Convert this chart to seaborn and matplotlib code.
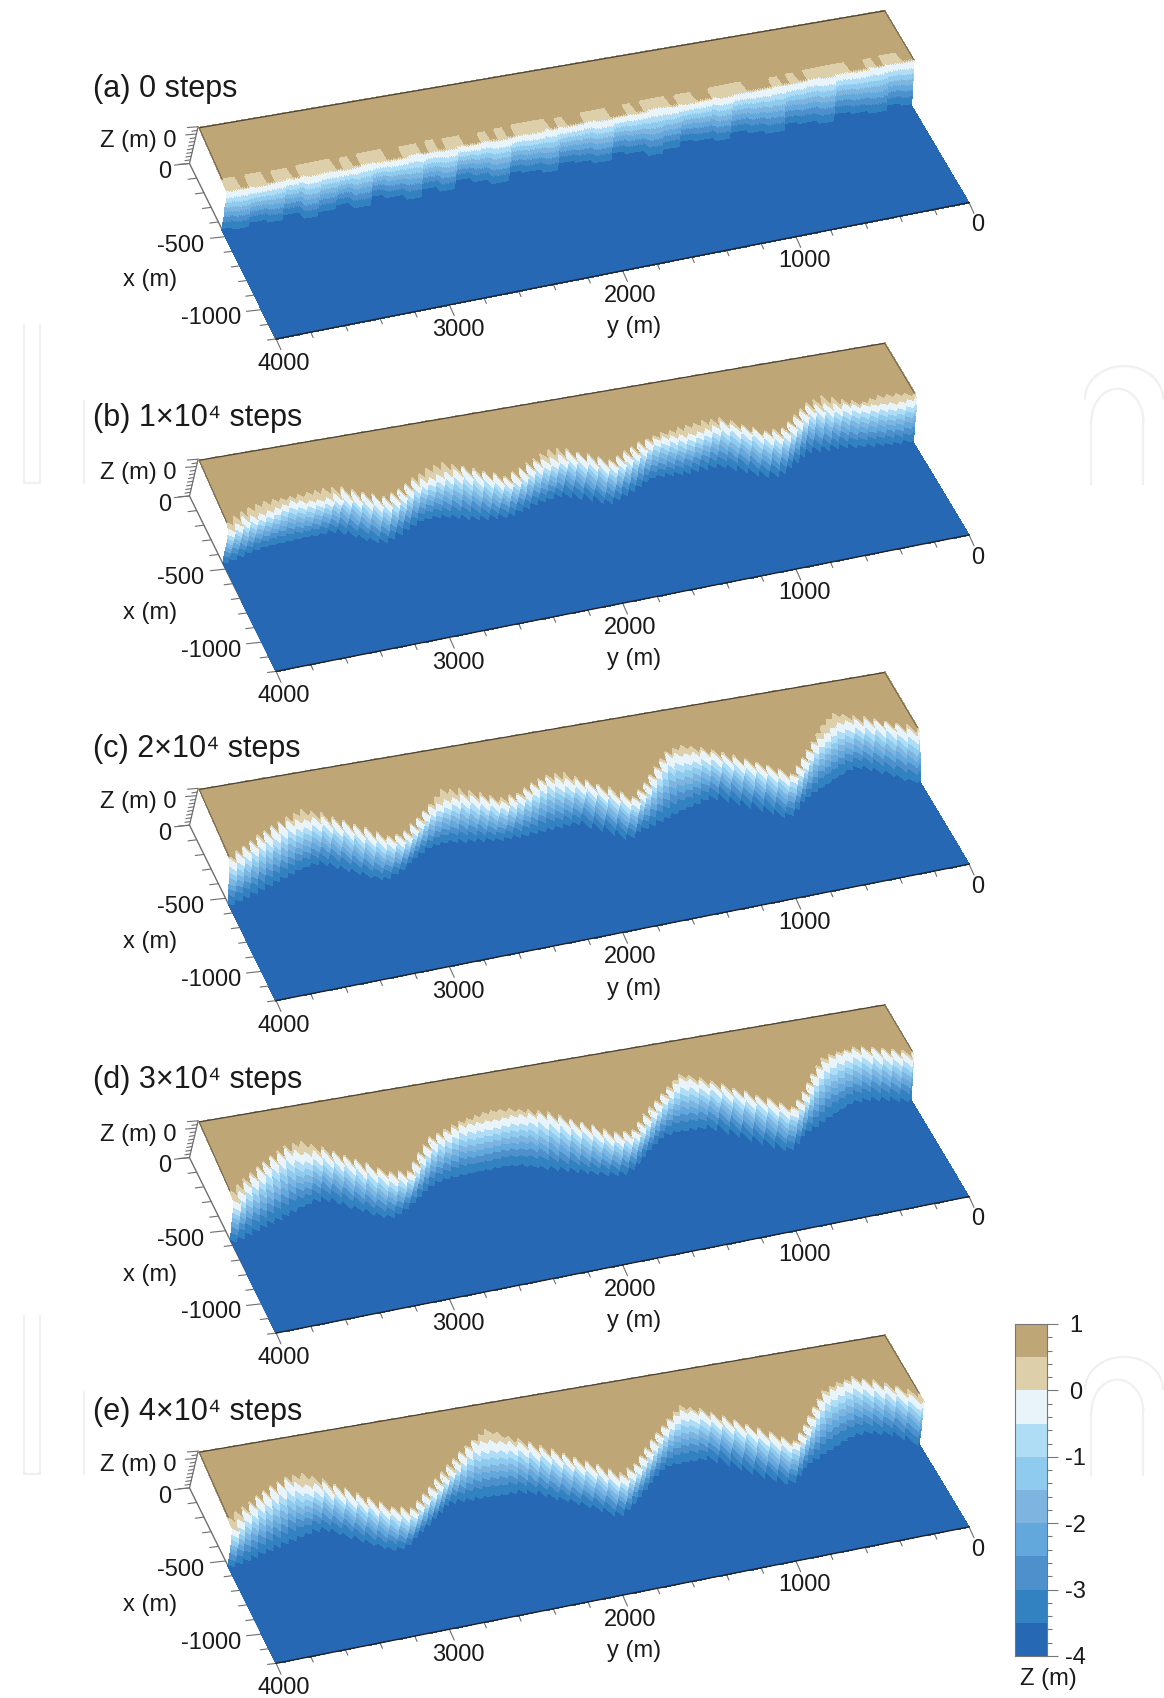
import numpy as np
import matplotlib
matplotlib.use("Agg")
import matplotlib.pyplot as plt
from matplotlib.colors import ListedColormap
import seaborn as sns

# ---------- data (metres offshore of the x = 0 line) ----------
band_colors = ["#BFA677", "#DCCFAA", "#E9F4FA", "#AEDDF5", "#8FCBEE",
               "#7DB5E0", "#62A8DC", "#4E90CC", "#3282C2", "#2668B4"]
colorbar_ticks = ["1", "0", "-1", "-2", "-3", "-4"]

shore_a = [390,390,320,320,390,325,390,390,320,320,320,320,320,390,325,390,330,390,390,390,320,
           320,320,320,390,390,325,325,390,320,320,320,390,325,390,390,325,325,325,390,390,330,
           390,320,320,320,320,390,325,390,330,390,390,325,325,390,320,390,325,325,390,390,320,
           320,320,390,325,390,320,320,320,320,390,325,325,390,320,320,390,320,320]
sandline_a = [392,388,382,394,386,396,384,392,386,380,390,396,384,394,386,380,392,388,396,384,390,
              380,394,388,396,386,384,394,388,380,394,390,384,396,388,394,384,390,396,388,392]
toe_a = [425,405,440,420,400,450,425,410,455,430,405,445,420,400,440,465,425,405,450,425,410,
         455,430,415,470,435,405,460,425,475,440,415,470,430,455,480,435,465,445,470,455]
tooth_a = [0] * 41

shore_b = [411,394,380,405,372,329,361,428,496,488,415,341,330,341,353,364,408,450,482,423,363,
           334,382,430,454,402,349,296,308,362,416,441,390,339,311,313,316,318,329,364,400]
toe_b = [470,410,359,354,348,343,346,395,445,473,431,388,375,382,389,396,430,470,506,432,397,
         418,440,462,483,470,442,414,399,439,479,519,455,382,388,394,400,406,415,443,472]
tooth_b = [6,6,6,6,10,18,18,18,18,14,14,14,8,8,8,8,18,18,16,18,18,12,16,18,16,18,18,12,8,16,18,
           18,18,18,8,6,6,6,8,14,8]
sand_b = [14,25,25,6,10,25,4,4,3,3,4,10,25,25,14,6,3,3,3,3,6,25,6,3,3,3,3,25,25,4,3,3,3,6,
          25,22,10,22,26,14,20]

shore_c = [469,412,354,296,240,312,420,527,610,528,458,388,318,270,300,390,486,560,475,397,319,
           307,347,388,401,350,300,270,352,424,493,499,432,365,297,238,276,316,355,395,434]
toe_c = [569,488,407,356,403,450,497,544,545,478,410,382,413,445,476,507,539,532,472,413,420,
         427,434,440,434,418,403,387,410,466,521,577,511,445,378,395,428,460,492,525,557]
tooth_c = [14,18,18,14,5,5,12,16,12,18,18,18,12,5,12,14,16,14,18,18,12,12,14,14,12,14,14,6,12,
           14,16,12,18,18,16,6,14,16,16,14,10]
sand_c = [10,4,4,10,30,25,3,3,3,3,3,3,8,25,5,3,3,3,3,3,15,5,3,3,8,8,15,30,5,3,3,3,3,3,8,25,8,
          3,3,4,8]

shore_d = [398,358,319,279,285,318,421,537,618,537,459,381,304,240,322,400,479,559,557,488,419,
           350,297,262,253,264,288,325,360,445,537,522,451,379,307,235,255,302,350,400,450]
toe_d = [444,410,376,369,416,463,510,557,604,493,381,376,375,374,373,433,500,566,591,552,513,
         475,436,402,406,410,414,418,451,515,579,617,545,472,400,431,462,493,525,556,587]
tooth_d = [14,18,18,10,5,10,14,16,12,18,18,18,12,5,12,14,16,14,16,18,18,16,8,5,5,5,8,12,14,16,
           14,12,18,18,18,6,14,16,16,14,12]
sand_d = [6,3,3,5,6,8,3,3,3,3,3,3,5,12,4,3,3,3,3,3,3,3,8,18,25,20,6,4,3,3,3,3,3,3,6,30,6,3,3,8,30]

shore_e = [488,417,345,275,290,335,440,555,645,565,480,394,308,250,330,415,500,585,630,551,476,
           400,324,248,175,231,302,373,444,514,585,552,475,398,321,244,260,301,343,386,428]
toe_e = [482,443,405,390,435,480,525,570,615,500,382,379,381,382,384,452,533,614,644,581,519,
         456,394,391,389,386,383,380,443,540,629,621,547,474,400,425,450,475,501,526,551]
tooth_e = [12,18,18,10,5,10,14,16,12,18,18,18,12,5,12,14,16,14,16,18,18,18,18,8,5,10,14,16,16,
           14,14,14,18,18,18,6,14,16,16,14,12]
sand_e = [30,3,3,6,8,6,3,3,3,3,3,3,6,12,4,3,3,3,8,3,3,3,3,15,35,5,3,3,3,3,3,3,3,3,6,30,6,3,3,8,35]

panel_titles = ["(a) 0 steps", "(b) 1×10⁴ steps", "(c) 2×10⁴ steps", "(d) 3×10⁴ steps", "(e) 4×10⁴ steps"]
y_ticks_major = [0, 1000, 2000, 3000, 4000]
x_ticks_major = [0, 500, 1000]
x_tick_text = ["0", "-500", "-1000"]

# ---------- layout (in units of the 1075 x 1568 view) ----------
panel_offset = [0, 307, 611, 918, 1223]
title_offset = [0, 304, 610, 915, 1222]
Y_MAX, X_MAX = 4000.0, 1200.0
base_q = np.array([[812, 48], [175, 151], [895, 187], [255, 313]], float)   # back y=0, back y=4000, front y=0, front y=4000
top_q = np.array([[817, 10], [184, 118], [900, 149], [264, 298]], float)
level_h = [1.0, 0.965, 0.81, 0.69, 0.57, 0.45, 0.32, 0.18, 0.0]
level_f = [0.0, 0.19, 0.32, 0.44, 0.55, 0.66, 0.79, 1.0]
TOOTH_GAIN, TOE_TOOTH, SAND_GAIN = 2.0, 0.9, 2.0
LABEL_PT, TITLE_PT = 17, 22


def bil(q, u, t):
    back = q[0][None, :] * (1 - u)[..., None] + q[1][None, :] * u[..., None]
    front = q[2][None, :] * (1 - u)[..., None] + q[3][None, :] * u[..., None]
    return back * (1 - t)[..., None] + front * t[..., None]


def on_base(y, x):
    y, x = np.atleast_1d(y, x)
    return bil(base_q, y / Y_MAX, x / X_MAX)


def stretch(values, ymesh):
    return np.interp(ymesh, np.linspace(0, Y_MAX, len(values)), values)


def nearest(values, ymesh):
    idx = np.round(ymesh / Y_MAX * (len(values) - 1)).astype(int)
    return np.asarray(values, float)[idx]


def soften(v, n=5):
    pad = np.r_[np.full(n, v[0]), v, np.full(n, v[-1])]
    return np.convolve(pad, np.ones(n) / n, mode="same")[n:-n]


def draw_surface(ax, off, shore, toe, tooth, sand=None, sandline=None):
    if sandline is not None:                     # blocky initial state
        ym = np.arange(0, Y_MAX + 1, 10.0)
        s = nearest(shore, ym)
        z0 = np.maximum(nearest(sandline, ym), s + 2)
        tz = np.maximum(nearest(toe, ym), z0 + 12)
    else:
        ym = np.arange(0, Y_MAX + 1, 25.0)
        sign = np.where(np.arange(len(ym)) % 2 == 0, -1.0, 1.0)
        amp = stretch(tooth, ym) * TOOTH_GAIN
        s = stretch(shore, ym) + amp * sign
        z0 = s + stretch(sand, ym) * SAND_GAIN
        tz = soften(stretch(toe, ym)) + amp * sign * TOE_TOOTH * 0.5
        tz = np.maximum(tz, z0 + 12)
    rows_x = [np.zeros_like(s), s] + [z0 + f * (tz - z0) for f in level_f] + [np.full_like(s, X_MAX)]
    rows_h = [1.0, 1.0] + level_h[1:] + [0.0]
    u = ym / Y_MAX
    sx, sy = [], []
    for rx, h in zip(rows_x, rows_h):
        p = bil(top_q, u, rx / X_MAX) * h + bil(base_q, u, rx / X_MAX) * (1 - h)
        sx.append(p[:, 0])
        sy.append(p[:, 1] + off)
    sx, sy = np.array(sx).T, np.array(sy).T
    C = np.tile(np.arange(10), (len(ym) - 1, 1))
    ax.pcolormesh(sx, sy, C, cmap=ListedColormap(band_colors), vmin=-0.5, vmax=9.5,
                  shading="flat", edgecolors="face", linewidth=0.2, zorder=2)
    # outline of the top of the bank
    ax.plot(*(bil(top_q, np.array([0.0, 1.0]), np.zeros(2)) + [0, off]).T, color="#4a4438", lw=0.9, zorder=3)
    for k, uu in enumerate((0.0, 1.0)):
        rx = s[-1 if k else 0]
        pts = bil(top_q, np.array([uu, uu]), np.array([0.0, rx / X_MAX])) + [0, off]
        ax.plot(pts[:, 0], pts[:, 1], color="#6b6250", lw=0.7, zorder=3)


def draw_axes(ax, off, title, title_off):
    tick = "#6f6f6f"
    # y axis along the front edge
    p = on_base(np.array([0.0, Y_MAX]), np.array([X_MAX, X_MAX])) + [0, off]
    ax.plot(p[:, 0], p[:, 1], color="#222222", lw=1.0, zorder=4)
    for v in np.arange(0, Y_MAX + 1, 200):
        major = v in y_ticks_major
        q = on_base(np.array([v]), np.array([X_MAX]))[0] + [0, off]
        dx, dy = (4.5, 10.0) if major else (2.2, 5.0)
        ax.plot([q[0], q[0] + dx], [q[1], q[1] + dy], color=tick, lw=0.8, zorder=1)
    for v, (lx, ly) in zip(y_ticks_major, [(903, 208), (743, 241), (582, 273), (423, 305), (262, 336)]):
        ax.text(lx, ly + off, str(v), ha="center", va="center", fontsize=LABEL_PT, color="#1a1a1a")
    # x axis along the left edge
    p = on_base(np.array([Y_MAX, Y_MAX]), np.array([0.0, X_MAX])) + [0, off]
    ax.plot(p[:, 0], p[:, 1], color=tick, lw=1.0, zorder=1)
    for v in np.arange(0, X_MAX + 1, 100):
        major = v in x_ticks_major
        q = on_base(np.array([Y_MAX]), np.array([v]))[0] + [0, off]
        ax.plot([q[0] - (14 if major else 8), q[0]], [q[1] + (1.5 if major else 1), q[1]], color=tick, lw=0.8, zorder=1)
    for s, (lx, ly) in zip(x_tick_text, [(152, 159), (167, 227), (195, 294)]):
        ax.text(lx, ly + off, s, ha="center", va="center", fontsize=LABEL_PT, color="#1a1a1a")
    # Z axis
    ax.plot([175, 183], [151 + off, 117 + off], color=tick, lw=0.9, zorder=1)
    for i, f in enumerate(np.linspace(0, 1, 11)):
        q = (175 + 8 * f, 151 + off - 34 * f)
        ln = 10 if i in (0, 8, 10) else 5
        ax.plot([q[0] - ln, q[0]], [q[1] + 0.8, q[1]], color=tick, lw=0.8, zorder=1)
    ax.text(92, 130 + off, "Z (m) 0", ha="left", va="center", fontsize=LABEL_PT, color="#1a1a1a")
    ax.text(139, 259 + off, "x (m)", ha="center", va="center", fontsize=LABEL_PT, color="#1a1a1a")
    ax.text(586, 302 + off, "y (m)", ha="center", va="center", fontsize=LABEL_PT, color="#1a1a1a")
    ax.text(86, 82 + title_off, title, ha="left", va="center", fontsize=TITLE_PT, color="#1a1a1a")


sns.set_theme(style="white")
plt.rcParams["font.family"] = ["Liberation Sans", "DejaVu Sans"]

fig = plt.figure(figsize=(11.64, 16.98), dpi=100, facecolor="white")
ax = fig.add_axes([0, 0, 1, 1])
ax.set_xlim(0, 1075)
ax.set_ylim(1568, 0)
ax.axis("off")

# faint watermark of the page
wm = "#f0f0f0"
ang = np.radians(np.arange(180, 361, 6))
for dy in (0, 915):
    ax.plot([22, 22, 37, 37], [300 + dy, 446 + dy, 446 + dy, 300 + dy], color=wm, lw=1.6, zorder=0)
    for cx, rx, top in ((1032, 24, 359), (1038, 36, 338)):
        ax.plot(cx + rx * np.cos(ang), top + 30 + dy + 30 * np.sin(ang), color=wm, lw=1.6, zorder=0)
    ax.plot([1008, 1008], [389 + dy, 447 + dy], color=wm, lw=1.6, zorder=0)
    ax.plot([1056, 1056], [389 + dy, 447 + dy], color=wm, lw=1.6, zorder=0)
    ax.plot([78, 78], [370 + dy, 446 + dy], color=wm, lw=1.6, zorder=0)

draw_surface(ax, panel_offset[0], shore_a, toe_a, tooth_a, sandline=sandline_a)
draw_surface(ax, panel_offset[1], shore_b, toe_b, tooth_b, sand=sand_b)
draw_surface(ax, panel_offset[2], shore_c, toe_c, tooth_c, sand=sand_c)
draw_surface(ax, panel_offset[3], shore_d, toe_d, tooth_d, sand=sand_d)
draw_surface(ax, panel_offset[4], shore_e, toe_e, tooth_e, sand=sand_e)
for off, t, to in zip(panel_offset, panel_titles, title_offset):
    draw_axes(ax, off, t, to)

# colour bar
cax = fig.add_axes([1015 / 1164, 1 - 1656 / 1698, 32 / 1164, 332 / 1698])
sns.heatmap(np.arange(10).reshape(-1, 1), ax=cax, cmap=ListedColormap(band_colors), cbar=False,
            xticklabels=False, yticklabels=False, vmin=-0.5, vmax=9.5)
cax.yaxis.tick_right()
cax.set_yticks(np.arange(0, 10.01, 2))
cax.set_yticklabels(colorbar_ticks, fontsize=LABEL_PT, ha="center", color="#1a1a1a")
cax.set_yticks(np.arange(0, 10.01, 0.4), minor=True)
cax.tick_params(axis="y", which="major", right=True, left=False, length=8, width=0.8, color="#777777", pad=12.5)
cax.tick_params(axis="y", which="minor", right=True, left=False, length=3.6, width=0.8, color="#777777")
cax.tick_params(axis="x", bottom=False)
for side, sp in cax.spines.items():
    sp.set_visible(True)
    sp.set_color("#777777")
    sp.set_linewidth(0.8)
ax.text(968, 1550, "Z (m)", ha="center", va="center", fontsize=LABEL_PT, color="#1a1a1a")

fig.savefig("out.png", dpi=100, facecolor="white")
